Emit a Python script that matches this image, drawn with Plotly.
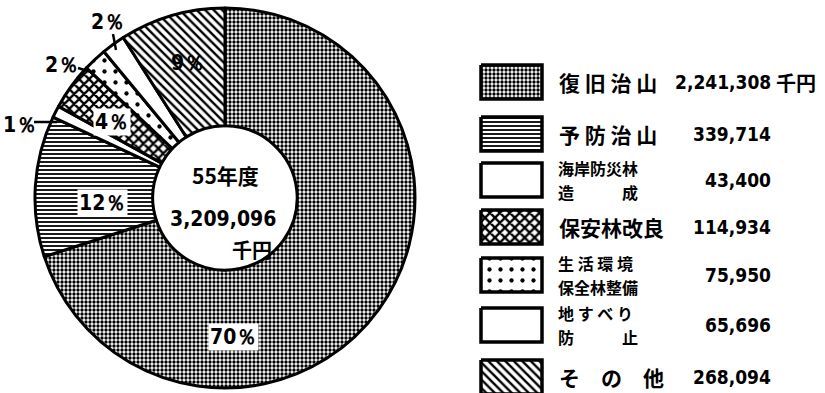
import plotly.graph_objects as go

# 昭和55年度 治山事業費の内訳
categories = ["復旧治山", "予防治山", "海岸防災林造成", "保安林改良", "生活環境保全林整備", "地すべり防止", "その他"]
legend_lines = [["復 旧 治 山"], ["予 防 治 山"], ["海岸防災林", "造　　　成"], ["保安林改良"],
                ["生 活 環 境", "保全林整備"], ["地 す べ り", "防　　　止"], ["そ　の　他"]]
amounts = ["2,241,308", "339,714", "43,400", "114,934", "75,950", "65,696", "268,094"]
percents = [70, 12, 1, 4, 2, 2, 9]
total_label = ["55年度", "3,209,096", "千円"]

pat_shape = [".", "-", "", "x", ".", "", "\\"]
pat_size = [4, 4, 6, 7, 11, 6, 6]
pat_solid = [0.55, 0.45, 0.0, 0.55, 0.12, 0.0, 0.4]

JP = "Noto Sans CJK JP"
NUM = "DejaVu Sans Condensed"

fig = go.Figure()

fig.add_trace(go.Pie(
    labels=categories, values=percents, sort=False, direction="clockwise", rotation=0,
    hole=0.38, textinfo="none", showlegend=False, hoverinfo="label+percent",
    domain=dict(x=[0.0424, 0.503], y=[0.0127, 0.98]),
    marker=dict(colors=["white"] * 7, line=dict(color="black", width=3),
                pattern=dict(shape=pat_shape, size=pat_size, solidity=pat_solid,
                             fgcolor="black", bgcolor="white", fillmode="replace")),
))

# 凡例のサンプル
row_y = [82, 134, 180, 227, 275, 325, 377]
sx0, sx1, sh = 481, 542, 17
for i, cat in enumerate(categories):
    y = row_y[i]
    fig.add_trace(go.Scatter(
        x=[sx0, sx1, sx1, sx0, sx0], y=[y - sh, y - sh, y + sh, y + sh, y - sh],
        mode="lines", fill="toself", fillcolor="white", showlegend=False, hoverinfo="skip",
        line=dict(color="black", width=3.5),
        fillpattern=dict(shape=pat_shape[i], size=pat_size[i], solidity=pat_solid[i],
                         fgcolor="black", bgcolor="white", fillmode="replace"),
    ))
    lines = legend_lines[i]
    if len(lines) == 1:
        fig.add_annotation(x=557, y=y, text=lines[0], xanchor="left", yanchor="middle",
                           showarrow=False, font=dict(family=JP, size=21, color="black", weight="bold"))
    else:
        for k, t in enumerate(lines):
            fig.add_annotation(x=557, y=y - 12 + 24 * k, text=t, xanchor="left", yanchor="middle",
                               showarrow=False, borderpad=0,
                               font=dict(family=JP, size=16, color="black", weight="bold"))
    fig.add_annotation(x=773, y=y, text=amounts[i], xanchor="right", yanchor="middle", showarrow=False,
                       font=dict(family=NUM, size=19, color="black", weight="bold"))
fig.add_annotation(x=774, y=row_y[0], text="千円", xanchor="left", yanchor="middle", showarrow=False,
                   font=dict(family=JP, size=20, color="black", weight="bold"))

# 中央の合計
fig.add_annotation(x=225, y=175, text=total_label[0], showarrow=False,
                   font=dict(family=JP, size=21, color="black", weight="bold"))
fig.add_annotation(x=223, y=219, text=total_label[1], showarrow=False, borderpad=0,
                   font=dict(family=NUM, size=21, color="black", weight="bold"))
fig.add_annotation(x=273, y=249, text=total_label[2], xanchor="right", showarrow=False, borderpad=0,
                   font=dict(family=JP, size=20, color="black", weight="bold"))

# 構成比ラベル
pct_pos = [(233, 337), (102, 203), (20, 125), (112, 122), (62, 65), (108, 22), (188, 63)]
pct_bg = ["white", "white", "rgba(0,0,0,0)", "white", "rgba(0,0,0,0)", "rgba(0,0,0,0)", "rgba(0,0,0,0)"]
for i, p in enumerate(percents):
    x, y = pct_pos[i]
    fig.add_annotation(x=x, y=y, text=f"{p}％", showarrow=False, bgcolor=pct_bg[i], borderpad=1,
                       font=dict(family=NUM, size=21, color="black", weight="bold"))

# 引出線
for (x0, y0, x1, y1) in [(34, 122, 57, 122), (78, 68, 91, 72), (113, 34, 116, 50)]:
    fig.add_shape(type="line", x0=x0, y0=y0, x1=x1, y1=y1, line=dict(color="black", width=2.5))

fig.update_xaxes(range=[0, 825], visible=False, domain=[0, 1])
fig.update_yaxes(range=[393, 0], visible=False, domain=[0, 1])
fig.update_layout(width=825, height=393, margin=dict(l=0, r=0, t=0, b=0),
                  paper_bgcolor="white", plot_bgcolor="white", showlegend=False)

fig.write_html("out.html", config={"displayModeBar": False},
               post_script="document.body.style.margin='0';")
